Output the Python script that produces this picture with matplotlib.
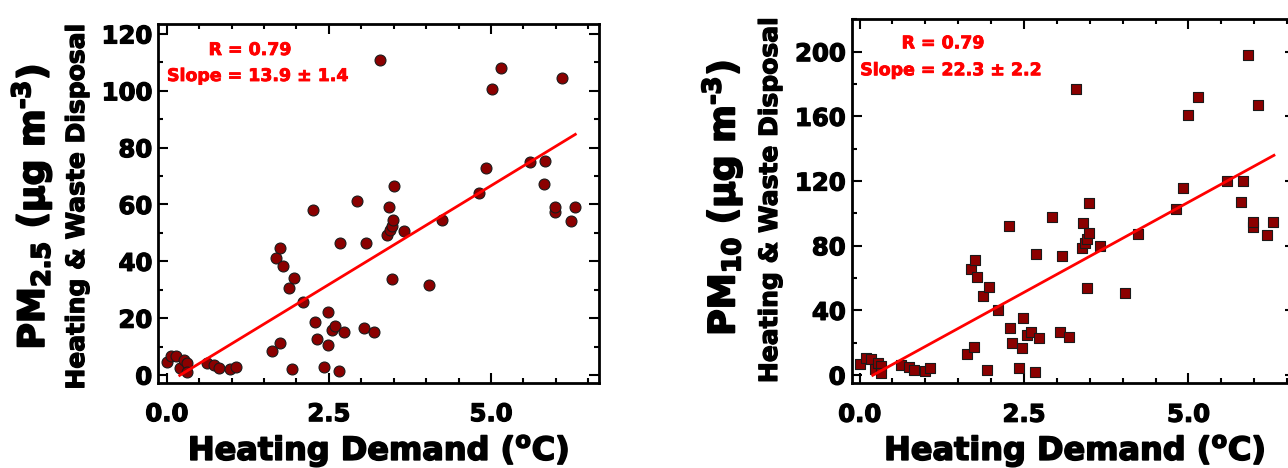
import matplotlib
matplotlib.use('agg')
import matplotlib.pyplot as plt
import matplotlib.patheffects as pe
from matplotlib.ticker import MultipleLocator

plt.rcParams['font.family'] = ['DejaVu Sans']
plt.rcParams['font.weight'] = 'bold'
plt.rcParams['mathtext.fontset'] = 'dejavusans'
plt.rcParams['mathtext.default'] = 'bf'

# heating demand vs PM2.5 (heating & waste disposal factor)
pm25_x = [0.00, 0.07, 0.15, 0.21, 0.26, 0.32, 0.32, 0.62, 0.73, 0.81, 0.98, 1.07,
          1.63, 1.74, 1.68, 1.74, 1.79, 1.88, 1.96, 1.93, 2.10, 2.26, 2.29, 2.31,
          2.43, 2.48, 2.48, 2.55, 2.59, 2.66, 2.67, 2.73, 2.94, 3.04, 3.08, 3.20,
          3.29, 3.42, 3.40, 3.45, 3.47, 3.49, 3.50, 3.48, 3.66, 4.05, 4.25, 4.82,
          4.92, 5.02, 5.15, 5.60, 5.84, 5.81, 5.99, 5.99, 6.09, 6.23, 6.30]
pm25_y = [4.7, 6.7, 6.7, 2.5, 5.3, 4.1, 1.2, 4.1, 3.5, 2.3, 2.0, 2.9,
          8.3, 11.3, 41.3, 44.6, 38.3, 30.7, 34.2, 2.2, 25.6, 58.1, 18.8, 12.7,
          2.9, 10.7, 22.3, 15.7, 17.1, 1.3, 46.6, 15.0, 61.2, 16.4, 46.3, 15.3,
          110.9, 59.0, 49.3, 51.0, 52.4, 54.5, 66.6, 33.8, 50.7, 31.8, 54.5, 64.2,
          72.7, 100.5, 107.9, 74.8, 75.3, 67.1, 57.5, 59.2, 104.6, 54.2, 59.2]

# heating demand vs PM10 (heating & waste disposal factor)
pm10_x = [0.01, 0.09, 0.17, 0.23, 0.28, 0.32, 0.33, 0.63, 0.75, 0.82, 1.00, 1.07,
          1.63, 1.74, 1.69, 1.75, 1.78, 1.88, 1.97, 1.94, 2.10, 2.27, 2.29, 2.31,
          2.43, 2.47, 2.49, 2.55, 2.60, 2.66, 2.68, 2.73, 2.93, 3.04, 3.08, 3.19,
          3.29, 3.40, 3.38, 3.43, 3.45, 3.49, 3.49, 3.46, 3.65, 4.03, 4.24, 4.81,
          4.92, 5.00, 5.14, 5.58, 5.83, 5.80, 5.98, 5.98, 5.91, 6.06, 6.20, 6.28]
pm10_y = [6.7, 10.3, 10.1, 3.6, 7.2, 5.4, 1.2, 6.2, 5.0, 3.1, 2.4, 4.1,
          12.9, 17.5, 65.5, 71.1, 60.8, 48.6, 54.3, 3.1, 40.2, 92.4, 29.4, 19.6,
          4.1, 16.5, 35.5, 24.5, 26.8, 1.8, 74.6, 23.2, 98.0, 26.4, 73.8, 23.6,
          176.9, 94.3, 78.4, 81.4, 83.9, 87.6, 106.5, 54.0, 80.1, 50.6, 87.0, 102.4,
          115.8, 160.6, 172.1, 120.0, 120.2, 106.8, 91.8, 94.5, 197.7, 167.2, 86.5, 94.5]

# regression lines
pm25_slope, pm25_icpt = 13.9, -2.9
pm10_slope, pm10_icpt = 22.3, -4.6
fit_x_range = [0.2, 6.3]

W, H = 1288, 468
fig = plt.figure(figsize=(W / 100, H / 100), dpi=100)


def heavy(color='black', w=0.9):
    # the reference font is blacker than DejaVu Bold, thicken it a little
    return [pe.withStroke(linewidth=w, foreground=color)]


def px(x0, y0, x1, y1):
    return [x0 / W, 1 - y1 / H, (x1 - x0) / W, (y1 - y0) / H]


def style(ax, ymajor, yminor):
    ax.xaxis.set_major_locator(MultipleLocator(2.5))
    ax.xaxis.set_minor_locator(MultipleLocator(0.5))
    ax.yaxis.set_major_locator(MultipleLocator(ymajor))
    ax.yaxis.set_minor_locator(MultipleLocator(yminor))
    ax.tick_params(which='both', direction='in', top=True, right=True, width=1.5)
    ax.tick_params(which='major', length=7, labelsize=17.5)
    ax.tick_params(which='minor', length=3.6)
    ax.tick_params(axis='x', which='major', pad=14)
    ax.tick_params(axis='y', which='major', pad=4.5)
    ax.xaxis.set_major_formatter(matplotlib.ticker.FormatStrFormatter('%.1f'))
    for lab in ax.get_xticklabels() + ax.get_yticklabels():
        lab.set_path_effects(heavy())
    for s in ax.spines.values():
        s.set_linewidth(2)


red = '#ff0000'
face = '#8b0000'

ax1 = fig.add_axes(px(158.3, 24, 599.3, 382.7))
ax1.scatter(pm25_x, pm25_y, s=62, marker='o', facecolor=face, edgecolor='#1a1a1a',
            linewidth=0.8, zorder=3)
ax1.plot(fit_x_range, [pm25_slope * v + pm25_icpt for v in fit_x_range], color=red, lw=2, zorder=4)
ax1.set_xlim(-0.13, 6.67)
ax1.set_ylim(-2.7, 123.5)
style(ax1, 20, 10)
ax1.text(0.208, 0.9275, 'R = 0.79', color=red, fontsize=12.5, ha='center', va='center',
         transform=ax1.transAxes, path_effects=heavy(red, 0.6))
ax1.text(0.2254, 0.855, 'Slope = 13.9 ± 1.4', color=red, fontsize=12.5, ha='center',
         va='center', transform=ax1.transAxes, path_effects=heavy(red, 0.6))

ax2 = fig.add_axes(px(851.7, 19.3, 1295, 383.3))
ax2.scatter(pm10_x, pm10_y, s=60, marker='s', facecolor=face, edgecolor='#1a1a1a',
            linewidth=0.8, zorder=3)
ax2.plot(fit_x_range, [pm10_slope * v + pm10_icpt for v in fit_x_range], color=red, lw=2, zorder=4)
ax2.set_xlim(-0.12, 6.62)
ax2.set_ylim(-5.1, 220)
style(ax2, 40, 20)
ax2.text(0.206, 0.934, 'R = 0.79', color=red, fontsize=12.5, ha='center', va='center',
         transform=ax2.transAxes, path_effects=heavy(red, 0.6))
ax2.text(0.224, 0.86, 'Slope = 22.3 ± 2.2', color=red, fontsize=12.5, ha='center',
         va='center', transform=ax2.transAxes, path_effects=heavy(red, 0.6))

# axis titles
xlab = 'Heating Demand ($^{o}$C)'
fig.text(378.8 / W, 1 - 460 / H, xlab, fontsize=23, ha='center', va='baseline',
         path_effects=heavy(w=1.2))
fig.text(1075 / W, 1 - 460 / H, xlab, fontsize=23, ha='center', va='baseline',
         path_effects=heavy(w=1.2))

fig.text(31.5 / W, 1 - 207 / H, 'PM$_{2.5}$ (µg m$^{\u2010 3}$)', fontsize=26, rotation=90,
         ha='center', va='center', path_effects=heavy(w=1.4))
fig.text(77 / W, 1 - 206.5 / H, 'Heating & Waste Disposal', fontsize=18, rotation=90,
         ha='center', va='center', path_effects=heavy(w=0.9))
fig.text(722 / W, 1 - 198 / H, 'PM$_{10}$ (µg m$^{\u2010 3}$)', fontsize=26, rotation=90,
         ha='center', va='center', path_effects=heavy(w=1.4))
fig.text(770 / W, 1 - 200 / H, 'Heating & Waste Disposal', fontsize=18, rotation=90,
         ha='center', va='center', path_effects=heavy(w=0.9))

fig.savefig('out.png', dpi=100)
